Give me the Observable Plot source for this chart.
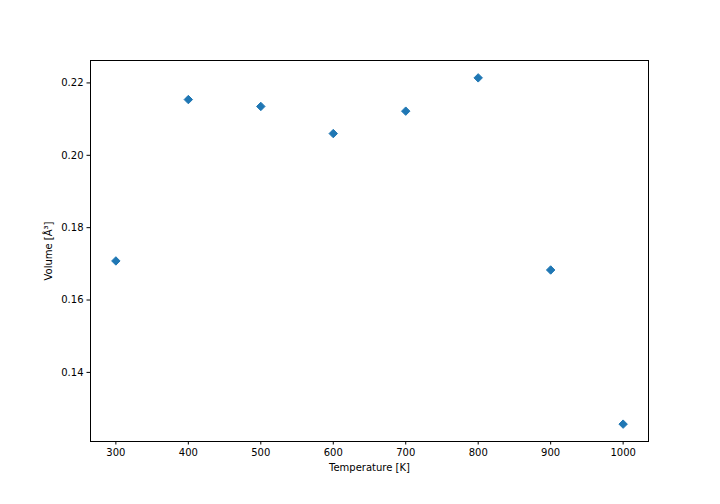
<!DOCTYPE html>
<html>
<head>
<meta charset="utf-8">
<script src="https://cdn.jsdelivr.net/npm/d3@7"></script>
<script src="https://cdn.jsdelivr.net/npm/@observablehq/plot@0.6"></script>
<style>
  html, body { margin: 0; padding: 0; background: #fff; }
  #chart svg { display: block; }
</style>
</head>
<body>
<div id="chart"></div>
<script>
const temperatures = [300, 400, 500, 600, 700, 800, 900, 1000];
const volumes = [0.1708, 0.2154, 0.2135, 0.2060, 0.2122, 0.2214, 0.1683, 0.1257];
const xTicks = [300, 400, 500, 600, 700, 800, 900, 1000];
const yTicks = [0.14, 0.16, 0.18, 0.20, 0.22];

const data = temperatures.map((t, i) => ({t, v: volumes[i]}));

const chart = Plot.plot({
  width: 720,
  height: 504,
  marginLeft: 90,
  marginRight: 72,
  marginTop: 60,
  marginBottom: 63,
  style: {fontFamily: "DejaVu Sans", fontSize: "10px", color: "#000", background: "#fff"},
  x: {domain: [265, 1035]},
  y: {domain: [0.1209, 0.2262]},
  marks: [
    Plot.frame({stroke: "#000", strokeWidth: 1}),
    Plot.axisX({ticks: xTicks, tickFormat: d3.format("d"), tickSize: 3.5, tickPadding: 3.5, label: "Temperature [K]", labelAnchor: "center", labelArrow: "none", labelOffset: 29}),
    Plot.axisY({ticks: yTicks, tickFormat: d3.format(".2f"), tickSize: 3.5, tickPadding: 3.5, label: "Volume [Å³]", labelAnchor: "center", labelArrow: "none", labelOffset: 46}),
    Plot.dot(data, {x: "t", y: "v", symbol: "diamond2", r: 3.8, fill: "#1f77b4", stroke: "#1f77b4", strokeWidth: 1})
  ]
});
document.getElementById("chart").appendChild(chart);
</script>
</body>
</html>
